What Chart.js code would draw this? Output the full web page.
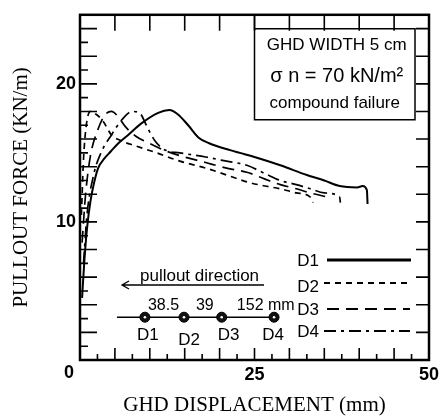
<!DOCTYPE html>
<html><head><meta charset="utf-8">
<script src="https://cdn.jsdelivr.net/npm/chart.js@4/dist/chart.umd.min.js"></script>
<style>html,body{margin:0;padding:0;background:#fff;overflow:hidden}</style>
</head><body>
<canvas id="c" width="444" height="418"></canvas>
<script>
const seriesNames = ['D1', 'D2', 'D3', 'D4'];
const d1X = [0.3, 0.6, 1.0, 1.5, 2.0, 2.6, 3.5, 4.4, 5.5, 6.9, 8.7, 11.2, 12.8, 14.0, 15.5, 17.0, 18.5, 21.5, 22.9, 25.0, 28.7, 32.5, 35.0, 37.2, 39.7, 40.5, 41.1, 41.2];
const d1Y = [4.5, 7.0, 9.5, 11.5, 12.8, 13.9, 14.6, 15.1, 15.7, 16.3, 17.1, 17.9, 18.1, 17.8, 17.0, 16.1, 15.7, 15.2, 15.0, 14.7, 14.1, 13.4, 13.0, 12.6, 12.5, 12.6, 12.3, 11.3];
const d2X = [0.2, 0.5, 0.9, 1.5, 2.3, 3.3, 4.5, 5.8, 8.0, 11.0, 14.3, 18.0, 21.0, 23.9, 26.5, 28.7, 31.0, 33.0, 33.4];
const d2Y = [10.5, 14.5, 17.0, 18.0, 17.8, 17.3, 16.3, 15.9, 15.5, 15.0, 14.4, 13.9, 13.4, 12.9, 12.6, 12.4, 12.1, 11.8, 11.4];
const d3X = [0.3, 0.8, 1.5, 2.5, 3.5, 4.5, 5.5, 6.5, 8.0, 9.5, 12.0, 14.3, 18.0, 21.0, 23.9, 26.5, 28.7, 31.0, 33.0, 35.5];
const d3Y = [8.5, 12.0, 14.8, 16.6, 17.7, 18.0, 17.6, 16.9, 16.2, 15.8, 15.2, 14.8, 14.3, 13.9, 13.6, 13.1, 12.7, 12.4, 12.1, 11.8];
const d4X = [0.5, 1.0, 2.0, 3.0, 4.5, 6.0, 7.5, 8.7, 9.5, 10.7, 12.2, 14.3, 18.0, 21.0, 23.9, 26.5, 28.7, 31.0, 33.0, 35.0, 37.2, 37.3];
const d4Y = [7.0, 10.5, 13.5, 15.0, 16.3, 17.4, 18.0, 17.8, 17.0, 15.9, 15.2, 15.0, 14.7, 14.4, 14.1, 13.5, 13.0, 12.7, 12.4, 12.1, 11.8, 11.4];
const xTickLabels = ['25', '50'];
const yTickLabels = ['10', '20'];
const zeroLabel = '0';
const anchorNames = ['D1', 'D2', 'D3', 'D4'];
const anchorPositions = [9.3, 14.9, 20.3, 27.8];
const anchorSpacings = ['38.5', '39', '152 mm'];
const anchorLevel = 3.1;
const anchorLineStart = 5.3;
const boxLines = ['GHD WIDTH 5 cm', 'σ n = 70 kN/m²', 'compound failure'];
const arrowText = 'pullout direction';
const xTitle = 'GHD DISPLACEMENT (mm)';
const yTitle = 'PULLOUT FORCE (KN/m)';

const SANS = '"Liberation Sans", Arial, sans-serif';
const SERIF = '"Liberation Serif", "Times New Roman", serif';
const dashes = [[], [6, 5], [12, 7], [12, 5, 3, 5]];
const widths = [2, 1.7, 1.7, 1.7];
const xsArr = [d1X, d2X, d3X, d4X];
const ysArr = [d1Y, d2Y, d3Y, d4Y];

const datasets = seriesNames.map((name, k) => ({
  label: name,
  data: xsArr[k].map((x, i) => ({x: x, y: ysArr[k][i]})),
  borderColor: '#000', borderWidth: widths[k], borderDash: dashes[k],
  pointRadius: 0, cubicInterpolationMode: 'monotone', fill: false
}));
const anchorXs = [anchorLineStart].concat(anchorPositions);
datasets.push({
  label: 'anchors',
  data: anchorXs.map(x => ({x: x, y: anchorLevel})),
  borderColor: '#000', borderWidth: 1.5,
  pointRadius: anchorXs.map((x, i) => i === 0 ? 0 : 5),
  pointBackgroundColor: '#111', pointBorderColor: '#000', pointBorderWidth: 1
});

const decor = {
  id: 'decor',
  afterDraw(chart) {
    const ctx = chart.ctx, a = chart.chartArea;
    const X = chart.scales.x, Y = chart.scales.y;
    ctx.save();
    ctx.strokeStyle = '#000'; ctx.fillStyle = '#000';
    ctx.lineWidth = 1.6;
    ctx.beginPath();
    for (let v = 2.5; v < 50; v += 2.5) {
      const px = X.getPixelForValue(v);
      const major = Math.abs(v % 5) < 1e-6;
      ctx.moveTo(px, a.bottom); ctx.lineTo(px, a.bottom - (major ? 12 : 6));
      if (major) { ctx.moveTo(px, a.top); ctx.lineTo(px, a.top + 16); }
    }
    for (let v = 1; v < 25; v += 1) {
      const py = Y.getPixelForValue(v);
      const major = v % 2 === 0;
      ctx.moveTo(a.left, py); ctx.lineTo(a.left + (major ? 17 : 8), py);
      if (major) { ctx.moveTo(a.right, py); ctx.lineTo(a.right - 13, py); }
    }
    ctx.stroke();
    ctx.lineWidth = 2.5;
    ctx.strokeRect(a.left, a.top, a.right - a.left, a.bottom - a.top);
    ctx.lineWidth = 1.5;
    const bl = X.getPixelForValue(25), br = a.right - 14, bt = a.top + 14, bb = a.top + 105;
    ctx.beginPath();
    ctx.moveTo(bl, a.top); ctx.lineTo(bl, bb); ctx.lineTo(br, bb); ctx.lineTo(br, bt); ctx.lineTo(bl, bt);
    ctx.stroke();
    const bc = (bl + br) / 2;
    ctx.textAlign = 'center'; ctx.textBaseline = 'middle';
    ctx.font = '17px ' + SANS; ctx.fillText(boxLines[0], bc + 2, bt + 17);
    ctx.font = '20px ' + SANS; ctx.fillText(boxLines[1], bc + 2, bt + 48);
    ctx.font = '17px ' + SANS; ctx.fillText(boxLines[2], bc, bt + 75);
    const legY = [260, 283, 309, 331];
    const legX0 = [327, 324, 327, 324], legX1 = [411, 408, 410, 410];
    ctx.font = '17px ' + SANS; ctx.textAlign = 'right';
    for (let k = 0; k < 4; k++) {
      ctx.fillText(seriesNames[k], 319, legY[k] + 1 + (k === 1 ? 3 : 0));
      ctx.setLineDash(dashes[k]);
      ctx.lineWidth = k === 0 ? 3 : 2;
      ctx.beginPath(); ctx.moveTo(legX0[k], legY[k]); ctx.lineTo(legX1[k], legY[k]); ctx.stroke();
    }
    ctx.setLineDash([]);
    ctx.lineWidth = 1.3;
    ctx.textAlign = 'left'; ctx.textBaseline = 'alphabetic';
    ctx.font = '17px ' + SANS;
    ctx.fillText(arrowText, 140, 281);
    ctx.beginPath();
    ctx.moveTo(122, 285); ctx.lineTo(264, 285);
    ctx.moveTo(129, 281); ctx.lineTo(122, 285); ctx.lineTo(129, 289);
    ctx.stroke();
    const ay = Y.getPixelForValue(anchorLevel);
    const apx = anchorPositions.map(v => X.getPixelForValue(v));
    ctx.textBaseline = 'middle'; ctx.textAlign = 'center';
    ctx.font = '16px ' + SANS;
    ctx.fillText(anchorSpacings[0], (apx[0] + apx[1]) / 2 - 1, ay - 12);
    ctx.fillText(anchorSpacings[1], (apx[1] + apx[2]) / 2 + 2, ay - 12);
    ctx.textAlign = 'left';
    ctx.fillText(anchorSpacings[2], (apx[2] + apx[3]) / 2 - 11, ay - 12);
    ctx.textAlign = 'center'; ctx.font = '17px ' + SANS;
    const dOff = [3, 5, 7, -1], dDy = [18, 23, 18, 18];
    for (let k = 0; k < 4; k++) ctx.fillText(anchorNames[k], apx[k] + dOff[k], ay + dDy[k]);
    ctx.fillStyle = '#fff';
    for (let k = 0; k < 4; k++) { ctx.beginPath(); ctx.arc(apx[k], ay, 1.3, 0, Math.PI * 2); ctx.fill(); }
    ctx.fillStyle = '#000';
    ctx.font = 'bold 18px ' + SANS; ctx.textAlign = 'center';
    ctx.fillText(zeroLabel, a.left - 11, a.bottom + 13);
    ctx.restore();
  }
};

new Chart(document.getElementById('c').getContext('2d'), {
  type: 'line',
  data: {datasets: datasets},
  options: {
    responsive: false, animation: false, devicePixelRatio: 1,
    layout: {padding: {top: 8, right: 15, left: 0, bottom: 0}},
    plugins: {legend: {display: false}, tooltip: {enabled: false}},
    scales: {
      x: {
        type: 'linear', min: 0, max: 50,
        ticks: {stepSize: 25, maxRotation: 0, padding: 4, color: '#000',
          font: {family: SANS, size: 18, weight: 'bold'},
          callback: v => xTickLabels.includes(String(v)) ? String(v) : ''},
        grid: {display: false, drawTicks: false}, border: {display: false},
        title: {display: true, text: xTitle, color: '#000', font: {family: SERIF, size: 21}, padding: {top: 0, bottom: 0}},
        afterFit: s => { s.height = 58; }
      },
      y: {
        type: 'linear', min: 0, max: 25,
        ticks: {stepSize: 10, padding: 4, color: '#000',
          font: {family: SANS, size: 18, weight: 'bold'},
          callback: v => yTickLabels.includes(String(v)) ? String(v) : ''},
        grid: {display: false, drawTicks: false}, border: {display: false},
        title: {display: true, text: yTitle, color: '#000', font: {family: SERIF, size: 21}, padding: {top: 9, bottom: 0}},
        afterFit: s => { s.width = 80; }
      }
    }
  },
  plugins: [decor]
});
</script>
</body></html>
